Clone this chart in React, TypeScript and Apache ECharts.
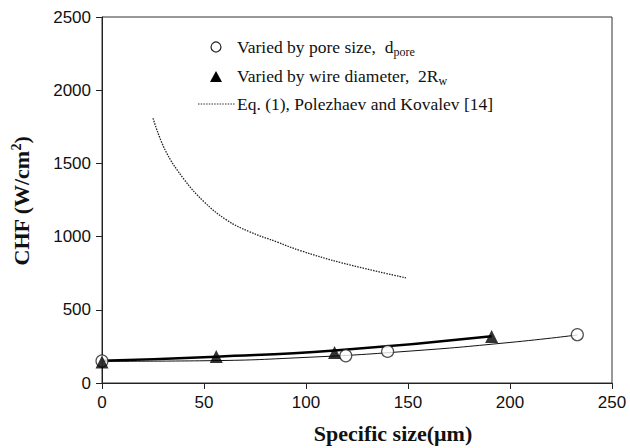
import React, { useEffect, useRef } from "react";
import * as echarts from "echarts";

// Varied by pore size (circles)
const poreX = [0, 119.5, 140, 233];
const poreY = [150, 186, 216, 330];
// Varied by wire diameter (triangles)
const wireX = [0, 56, 114, 191];
const wireY = [143, 181, 209, 318];
// Trend line through pore-size data
const poreTrendX = [0, 50, 100, 150, 200, 233];
const poreTrendY = [148, 152, 175, 217, 277, 328];
// Trend line through wire-diameter data
const wireTrendX = [0, 56, 114, 191];
const wireTrendY = [152, 180, 222, 320];
// Eq. (1), Polezhaev and Kovalev [14]
const eqX = [25, 31, 40, 50, 61, 72, 86, 97, 118, 149];
const eqY = [1808, 1590, 1395, 1238, 1114, 1035, 962, 905, 819, 718];

const xTicks = { min: 0, max: 250, interval: 50 };
const yTicks = { min: 0, max: 2500, interval: 500 };

const zip = (xs: number[], ys: number[]) => xs.map((x, i) => [x, ys[i]]);

export default function App() {
  const ref = useRef<HTMLDivElement>(null);
  useEffect(() => {
    if (!ref.current) return;
    const chart = echarts.init(ref.current, null, { renderer: "svg" });
    const serif = "'Liberation Serif', 'Times New Roman', serif";
    const sans = "'Liberation Sans', Arial, sans-serif";
    const legendRich = {
      a: { fontFamily: serif, fontSize: 17.5, fill: "#111", color: "#111", lineHeight: 22 },
      s: { fontFamily: serif, fontSize: 12, fill: "#111", color: "#111", padding: [9, 0, 0, 0] },
    };
    chart.setOption({
      animation: false,
      backgroundColor: "#fff",
      grid: {
        left: 102,
        right: 18,
        top: 17,
        bottom: 65,
        show: true,
        borderColor: "#333",
        borderWidth: 1,
        backgroundColor: "transparent",
      },
      xAxis: {
        type: "value",
        ...xTicks,
        axisLine: { show: true, onZero: false, lineStyle: { color: "#222", width: 1 } },
        axisTick: { show: true, inside: false, length: 6, lineStyle: { color: "#222" } },
        axisLabel: { color: "#111", fontFamily: sans, fontSize: 17, margin: 11 },
        splitLine: { show: false },
      },
      yAxis: {
        type: "value",
        ...yTicks,
        axisLine: { show: true, onZero: false, lineStyle: { color: "#222", width: 1 } },
        axisTick: { show: true, inside: false, length: 6, lineStyle: { color: "#222" } },
        axisLabel: {
          color: "#111",
          fontFamily: sans,
          fontSize: 17,
          margin: 11,
          formatter: (v: number) => String(v),
        },
        splitLine: { show: false },
      },
      series: [
        {
          name: "poreTrend",
          type: "line",
          data: zip(poreTrendX, poreTrendY),
          smooth: true,
          symbol: "none",
          lineStyle: { color: "#111", width: 1 },
          z: 2,
        },
        {
          name: "wireTrend",
          type: "line",
          data: zip(wireTrendX, wireTrendY),
          smooth: true,
          symbol: "none",
          lineStyle: { color: "#000", width: 2.5 },
          z: 2,
        },
        {
          name: "Eq. (1), Polezhaev and Kovalev [14]",
          type: "line",
          data: zip(eqX, eqY),
          smooth: 0.4,
          symbol: "none",
          lineStyle: { color: "#222", width: 1.3, type: [1.5, 1.2] },
          z: 2,
        },
        {
          name: "Varied by pore size",
          type: "scatter",
          data: zip(poreX, poreY),
          symbol: "circle",
          symbolSize: 12,
          itemStyle: { color: "#fff", borderColor: "#222", borderWidth: 1.2 },
          z: 3,
        },
        {
          name: "Varied by wire diameter",
          type: "scatter",
          data: zip(wireX, wireY),
          symbol: "triangle",
          symbolSize: 13,
          itemStyle: { color: "#000" },
          z: 4,
        },
      ],
      graphic: [
        {
          type: "circle",
          shape: { cx: 216, cy: 47, r: 5 },
          style: { fill: "#fff", stroke: "#222", lineWidth: 1.2 },
        },
        {
          type: "polygon",
          shape: { points: [[210, 82], [222, 82], [216, 71]] },
          style: { fill: "#000" },
        },
        {
          type: "line",
          shape: { x1: 198, y1: 104, x2: 235, y2: 104 },
          style: { stroke: "#333", lineWidth: 1, lineDash: [1.5, 1.2] },
        },
        {
          type: "text",
          x: 237,
          y: 47,
          style: {
            text: "{a|Varied by pore size,  d}{s|pore}",
            verticalAlign: "middle",
            rich: legendRich,
          },
        },
        {
          type: "text",
          x: 237,
          y: 76,
          style: {
            text: "{a|Varied by wire diameter,  2R}{s|w}",
            verticalAlign: "middle",
            rich: legendRich,
          },
        },
        {
          type: "text",
          x: 237,
          y: 104,
          style: {
            text: "Eq. (1), Polezhaev and Kovalev [14]",
            fontFamily: serif,
            fontSize: 17.5,
            fill: "#111",
            verticalAlign: "middle",
          },
        },
        {
          type: "text",
          x: 21,
          y: 201,
          rotation: Math.PI / 2,
          style: {
            text: "{a|CHF (W/cm}{p|2}{a|)}",
            align: "center",
            verticalAlign: "middle",
            rich: {
              a: { fontFamily: serif, fontWeight: "bold", fontSize: 22, fill: "#111", color: "#111", lineHeight: 26 },
              p: { fontFamily: serif, fontWeight: "bold", fontSize: 14, fill: "#111", color: "#111", padding: [0, 0, 10, 0] },
            },
          },
        },
        {
          type: "text",
          x: 393,
          y: 433,
          style: {
            text: "Specific size(μm)",
            fontFamily: serif,
            fontWeight: "bold",
            fontSize: 22,
            fill: "#111",
            align: "center",
            verticalAlign: "middle",
          },
        },
      ],
    });
    return () => chart.dispose();
  }, []);
  return (
    <div
      ref={ref}
      style={{ position: "absolute", left: 0, top: 0, width: 630, height: 448 }}
    />
  );
}
